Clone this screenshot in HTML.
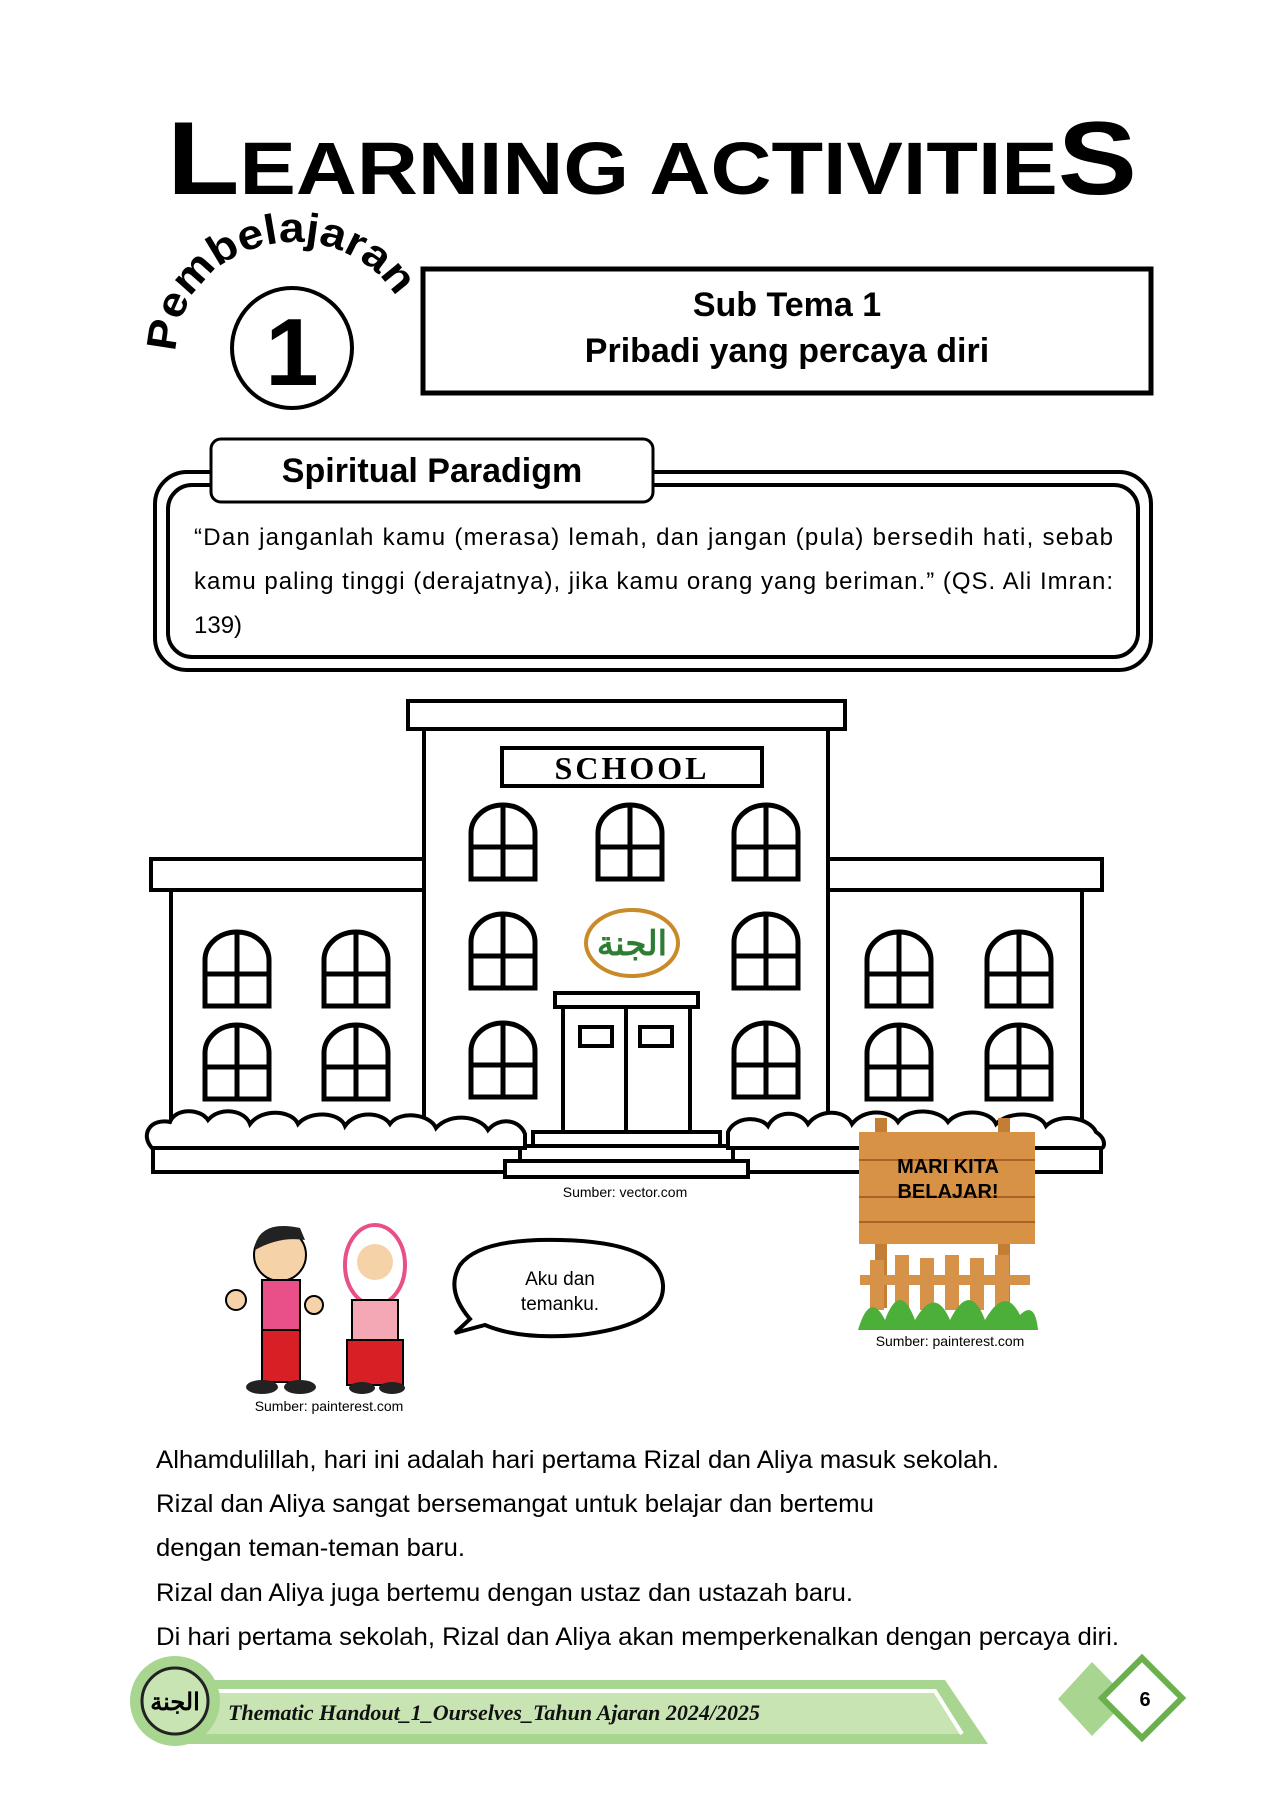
<!DOCTYPE html>
<html><head><meta charset="utf-8"><style>
html,body{margin:0;padding:0;background:#fff;}
svg{display:block;font-family:"Liberation Sans",sans-serif;}
</style></head><body>
<svg width="1272" height="1800" viewBox="0 0 1272 1800" xmlns="http://www.w3.org/2000/svg">
<defs>
<g id="w"><path d="M0,74 V28 A32,28 0 0 1 64,28 V74 Z" fill="#fff" stroke="#000" stroke-width="5"/><path d="M32,2 V74 M0,42 H64" stroke="#000" stroke-width="5"/></g>
</defs>
<!-- Title -->
<text x="167" y="194" font-size="104" font-weight="bold" textLength="970" lengthAdjust="spacingAndGlyphs">L<tspan font-size="74">EARNING ACTIVITIE</tspan>S</text>
<!-- Pembelajaran -->
<path id="arc" d="M176,352 A118,110 0 0 1 412,352" fill="none"/>
<text font-size="42" font-weight="bold"><textPath href="#arc" textLength="300" lengthAdjust="spacingAndGlyphs">Pembelajaran</textPath></text>
<circle cx="292" cy="348" r="60" fill="#fff" stroke="#000" stroke-width="4"/>
<text x="292" y="385" font-size="96" font-weight="bold" text-anchor="middle">1</text>
<!-- Sub Tema box -->
<rect x="423" y="269" width="728" height="124" fill="none" stroke="#000" stroke-width="5"/>
<text x="787" y="316" font-size="34" font-weight="bold" text-anchor="middle">Sub Tema 1</text>
<text x="787" y="362" font-size="34" font-weight="bold" text-anchor="middle">Pribadi yang percaya diri</text>
<!-- Spiritual box -->
<rect x="155" y="472" width="996" height="198" rx="32" fill="#fff" stroke="#000" stroke-width="4"/>
<rect x="168" y="485" width="970" height="172" rx="24" fill="#fff" stroke="#000" stroke-width="4"/>
<rect x="211" y="439" width="442" height="63" rx="10" fill="#fff" stroke="#000" stroke-width="3"/>
<text x="432" y="482" font-size="34" font-weight="bold" text-anchor="middle">Spiritual Paradigm</text>
<text x="194" y="545" font-size="24" textLength="919" lengthAdjust="spacing">“Dan janganlah kamu (merasa) lemah, dan jangan (pula) bersedih hati, sebab</text>
<text x="194" y="589" font-size="24" textLength="919" lengthAdjust="spacing">kamu paling tinggi (derajatnya), jika kamu orang yang beriman.” (QS. Ali Imran:</text>
<text x="194" y="633" font-size="24">139)</text>
<!-- School -->
<g stroke="#000" stroke-width="4" fill="#fff">
<rect x="408" y="701" width="437" height="28"/>
<rect x="424" y="729" width="404" height="420"/>
<rect x="151" y="859" width="273" height="31"/>
<rect x="171" y="890" width="253" height="260"/>
<rect x="828" y="859" width="274" height="31"/>
<rect x="828" y="890" width="254" height="260"/>
<rect x="502" y="748" width="260" height="38"/>
<rect x="555" y="993" width="143" height="14"/>
<rect x="563" y="1007" width="127" height="135"/>
<line x1="626" y1="1007" x2="626" y2="1142"/>
<rect x="580" y="1027" width="32" height="19"/>
<rect x="640" y="1027" width="32" height="19"/>
<rect x="153" y="1148" width="948" height="24"/>
<rect x="533" y="1132" width="187" height="14"/>
<rect x="520" y="1146" width="213" height="15"/>
<rect x="505" y="1161" width="243" height="16"/>
</g>
<text x="632" y="779" font-size="32" font-weight="bold" text-anchor="middle" style="font-family:'Liberation Serif',serif" letter-spacing="3">SCHOOL</text>
<g>
<use href="#w" x="471" y="805"/><use href="#w" x="598" y="805"/><use href="#w" x="734" y="805"/>
<use href="#w" x="471" y="914"/><use href="#w" x="734" y="914"/>
<use href="#w" x="471" y="1023"/><use href="#w" x="734" y="1023"/>
<use href="#w" x="205" y="932"/><use href="#w" x="324" y="932"/>
<use href="#w" x="205" y="1025"/><use href="#w" x="324" y="1025"/>
<use href="#w" x="867" y="932"/><use href="#w" x="987" y="932"/>
<use href="#w" x="867" y="1025"/><use href="#w" x="987" y="1025"/>
</g>
<ellipse cx="632" cy="943" rx="46" ry="33" fill="#fff" stroke="#c98a2a" stroke-width="4"/>
<text x="632" y="955" font-size="34" font-weight="bold" fill="#2e7d32" text-anchor="middle">الجنة</text>
<!-- bushes -->
<g fill="#fff" stroke="#000" stroke-width="4">
<path d="M152,1148 C140,1135 150,1118 170,1122 C175,1108 200,1108 208,1120 C220,1106 245,1110 250,1124 C262,1108 292,1110 298,1124 C310,1110 340,1112 345,1126 C356,1110 382,1112 390,1124 C400,1110 430,1114 436,1128 C450,1112 480,1116 488,1130 C500,1116 520,1120 525,1134 L525,1148 Z"/>
<path d="M728,1148 L728,1132 C735,1116 760,1116 768,1126 C776,1110 800,1110 808,1124 C820,1108 846,1110 852,1124 C864,1108 890,1110 898,1122 C910,1106 940,1110 948,1122 C960,1108 990,1110 996,1124 C1010,1110 1040,1112 1046,1126 C1060,1112 1090,1118 1096,1132 C1108,1140 1104,1150 1100,1148 Z"/>
</g>
<text x="625" y="1197" font-size="14" text-anchor="middle">Sumber: vector.com</text>
<!-- sign -->
<rect x="875" y="1118" width="12" height="190" fill="#c47d35"/>
<rect x="998" y="1118" width="12" height="190" fill="#c47d35"/>
<rect x="859" y="1132" width="176" height="112" fill="#d79245"/>
<g stroke="#a8622a" stroke-width="2"><line x1="859" y1="1160" x2="1035" y2="1160"/><line x1="859" y1="1197" x2="1035" y2="1197"/><line x1="859" y1="1222" x2="1035" y2="1222"/></g>
<text x="948" y="1173" font-size="20" font-weight="bold" text-anchor="middle">MARI KITA</text>
<text x="948" y="1198" font-size="20" font-weight="bold" text-anchor="middle">BELAJAR!</text>
<g fill="#d7924a"><rect x="870" y="1260" width="14" height="50"/><rect x="895" y="1255" width="14" height="55"/><rect x="920" y="1258" width="14" height="52"/><rect x="945" y="1255" width="14" height="55"/><rect x="970" y="1258" width="14" height="52"/><rect x="995" y="1255" width="14" height="55"/><rect x="860" y="1275" width="170" height="10"/></g>
<path d="M858,1330 Q870,1290 885,1320 Q900,1280 915,1320 Q935,1285 950,1320 Q970,1280 985,1320 Q1005,1285 1020,1315 Q1035,1300 1038,1330 Z" fill="#4caf3a"/>
<text x="950" y="1346" font-size="14" text-anchor="middle">Sumber: painterest.com</text>
<!-- kids -->
<g>
<circle cx="280" cy="1255" r="26" fill="#f6d2a8" stroke="#000" stroke-width="2"/>
<path d="M255,1245 Q262,1220 300,1228 L305,1240 Q280,1236 255,1250Z" fill="#222"/>
<rect x="262" y="1280" width="38" height="50" fill="#e9508a" stroke="#000" stroke-width="2"/>
<rect x="262" y="1330" width="38" height="52" fill="#d81f26" stroke="#000" stroke-width="2"/>
<ellipse cx="262" cy="1387" rx="16" ry="7" fill="#222"/><ellipse cx="300" cy="1387" rx="16" ry="7" fill="#222"/>
<circle cx="236" cy="1300" r="10" fill="#f6d2a8" stroke="#000" stroke-width="2"/><circle cx="314" cy="1305" r="9" fill="#f6d2a8" stroke="#000" stroke-width="2"/>
<ellipse cx="375" cy="1265" rx="30" ry="40" fill="#fff" stroke="#e9508a" stroke-width="4"/>
<circle cx="375" cy="1262" r="18" fill="#f6d2a8"/>
<rect x="352" y="1300" width="46" height="40" fill="#f4a7b4" stroke="#000" stroke-width="2"/>
<rect x="347" y="1340" width="56" height="45" fill="#d81f26" stroke="#000" stroke-width="2"/>
<ellipse cx="362" cy="1388" rx="13" ry="6" fill="#222"/><ellipse cx="392" cy="1388" rx="13" ry="6" fill="#222"/>
</g>
<text x="329" y="1411" font-size="14" text-anchor="middle">Sumber: painterest.com</text>
<!-- bubble -->
<path d="M470,1319 Q445,1290 460,1265 Q480,1238 560,1240 Q660,1242 663,1285 Q665,1325 580,1335 Q520,1340 485,1325 L455,1333 Z" fill="#fff" stroke="#000" stroke-width="4"/>
<text x="560" y="1285" font-size="19" text-anchor="middle">Aku dan</text>
<text x="560" y="1310" font-size="19" text-anchor="middle">temanku.</text>
<!-- body -->
<g font-size="25">
<text x="156" y="1468" textLength="843" lengthAdjust="spacingAndGlyphs">Alhamdulillah, hari ini adalah hari pertama Rizal dan Aliya masuk sekolah.</text>
<text x="156" y="1512" textLength="718" lengthAdjust="spacingAndGlyphs">Rizal dan Aliya sangat bersemangat untuk belajar dan bertemu</text>
<text x="156" y="1556" textLength="309" lengthAdjust="spacingAndGlyphs">dengan teman-teman baru.</text>
<text x="156" y="1601" textLength="697" lengthAdjust="spacingAndGlyphs">Rizal dan Aliya juga bertemu dengan ustaz dan ustazah baru.</text>
<text x="156" y="1645" textLength="963" lengthAdjust="spacingAndGlyphs">Di hari pertama sekolah, Rizal dan Aliya akan memperkenalkan dengan percaya diri.</text>
</g>
<!-- footer -->
<g transform="translate(0,-6)">
<path d="M170,1686 L945,1686 L988,1750 L170,1750 Z" fill="#a8d58f"/>
<path d="M205,1697 L935,1697 L962,1740 L205,1740 Z" fill="#c9e4b3"/>
<path d="M205,1697 L935,1697 L962,1740" fill="none" stroke="#fff" stroke-width="4"/>
<circle cx="175" cy="1707" r="45" fill="#a8d58f"/>
<circle cx="175" cy="1707" r="33" fill="#c9e4b3" stroke="#222" stroke-width="3"/>
<text x="175" y="1716" font-size="24" font-weight="bold" text-anchor="middle">الجنة</text>
<text x="228" y="1726" font-size="22" font-style="italic" font-weight="bold" style="font-family:'Liberation Serif',serif" fill="#111">Thematic Handout_1_Ourselves_Tahun Ajaran 2024/2025</text>
<path d="M1092,1668 L1128,1705 L1092,1742 L1058,1705 Z" fill="#a8d58f"/>
<path d="M1142,1664 L1182,1704 L1142,1744 L1102,1704 Z" fill="#fff" stroke="#6ab04c" stroke-width="6"/>
<text x="1145" y="1712" font-size="20" font-weight="bold" text-anchor="middle">6</text>
</g>
</svg>
</body></html>
